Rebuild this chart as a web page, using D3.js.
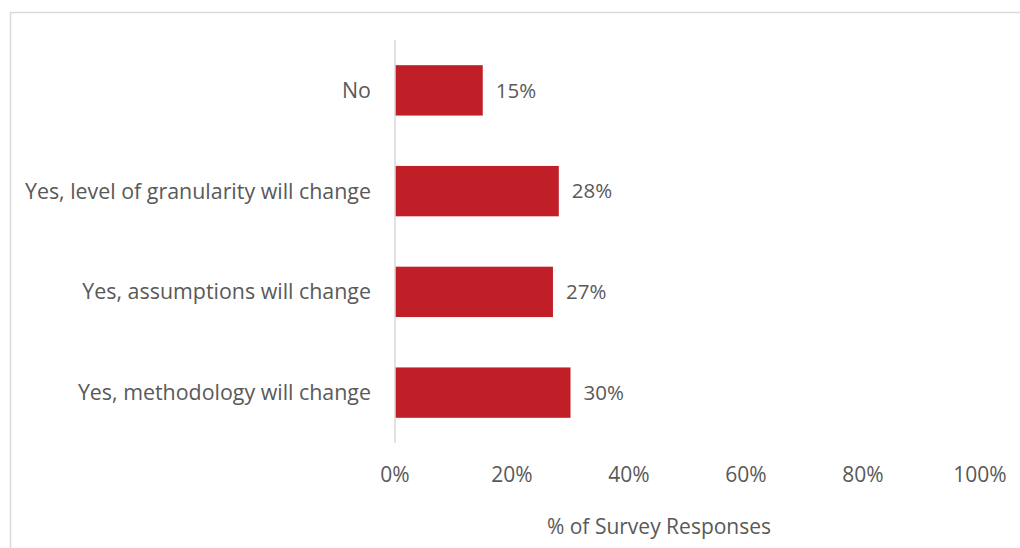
<!DOCTYPE html>
<html>
<head>
<meta charset="utf-8">
<script src="https://cdn.jsdelivr.net/npm/d3@7"></script>
<style>
  html, body { margin: 0; padding: 0; background: #fff; }
  svg text { font-family: "Open Sans", "Lato", sans-serif; fill: #595959; }
</style>
</head>
<body>
<svg id="chart" width="1020" height="548"></svg>
<script>
// Survey responses: will the approach change?
const categories = [
  "No",
  "Yes, level of granularity will change",
  "Yes, assumptions will change",
  "Yes, methodology will change"
];
const values = [15, 28, 27, 30];
const tickValues = [0, 20, 40, 60, 80, 100];
const axisTitle = "% of Survey Responses";

const svg = d3.select("#chart");
const W = 1020, H = 548;

// chart frame (top and left edges)
svg.append("path")
  .attr("d", `M10.5,${H} V12.5 H${W}`)
  .attr("fill", "none")
  .attr("stroke", "#d9d9d9")
  .attr("stroke-width", 1.5);

const x = d3.scaleLinear().domain([0, 100]).range([395, 980]);
const y = d3.scaleBand().domain(categories).range([40, 443]).paddingInner(0.5).paddingOuter(0.25);

// value axis labels
svg.append("g")
  .selectAll("text")
  .data(tickValues)
  .join("text")
  .attr("x", d => x(d))
  .attr("y", 482)
  .attr("text-anchor", "middle")
  .attr("font-size", 21)
  .text(d => d + "%");

// bars
svg.append("g")
  .selectAll("rect")
  .data(values)
  .join("rect")
  .attr("x", x(0))
  .attr("y", (d, i) => y(categories[i]))
  .attr("width", d => x(d) - x(0))
  .attr("height", y.bandwidth())
  .attr("fill", "#c01f28");

// category axis line
svg.append("line")
  .attr("x1", x(0)).attr("x2", x(0))
  .attr("y1", 40).attr("y2", 443)
  .attr("stroke", "#d9d9d9")
  .attr("stroke-width", 1.5);

// category labels
svg.append("g")
  .selectAll("text")
  .data(categories)
  .join("text")
  .attr("x", 371)
  .attr("y", d => y(d) + y.bandwidth() / 2)
  .attr("dy", "0.35em")
  .attr("text-anchor", "end")
  .attr("font-size", 21.4)
  .text(d => d);

// value labels
svg.append("g")
  .selectAll("text")
  .data(values)
  .join("text")
  .attr("x", d => x(d) + 13)
  .attr("y", (d, i) => y(categories[i]) + y.bandwidth() / 2)
  .attr("dy", "0.35em")
  .attr("font-size", 20.5)
  .text(d => d + "%");

// axis title
svg.append("text")
  .attr("x", 659)
  .attr("y", 534)
  .attr("text-anchor", "middle")
  .attr("font-size", 21)
  .text(axisTitle);
</script>
</body>
</html>
